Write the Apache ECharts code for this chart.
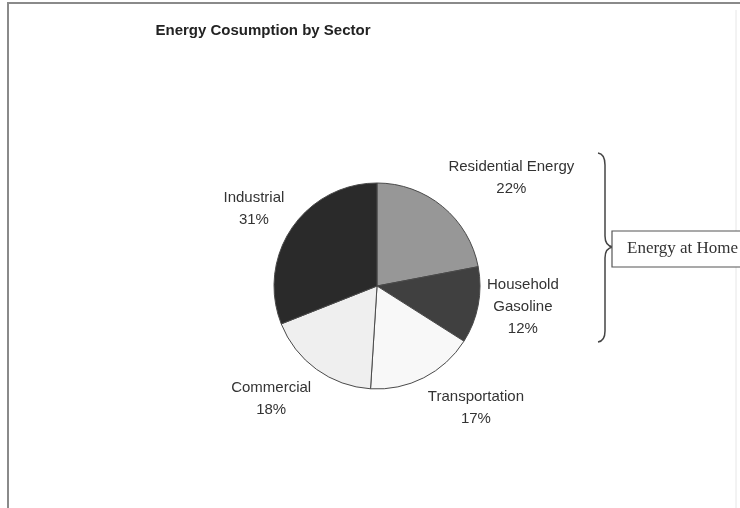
<!DOCTYPE html>
<html>
<head>
<meta charset="utf-8">
<script src="https://cdn.jsdelivr.net/npm/echarts@6/dist/echarts.min.js"></script>
<style>html,body{margin:0;padding:0;background:#fff;}#chart{width:740px;height:508px;}</style>
</head>
<body>
<div id="chart"></div>
<script>
const titleText = 'Energy Cosumption by Sector';
const categories = ['Residential Energy', 'Household\nGasoline', 'Transportation', 'Commercial', 'Industrial'];
const values = [22, 12, 17, 18, 31];
const sliceColors = ['#979797', '#404040', '#f8f8f8', '#efefef', '#2a2a2a'];
const braceLabel = 'Energy at Home';

const CX = 377, CY = 286, R = 103, GAP = 9;
const total = values.reduce((a, b) => a + b, 0);
const cum = [];
values.reduce((acc, v, i) => { cum[i] = acc; return acc + v; }, 0);

function ramp(u, t, k) {
  const a = Math.abs(u);
  return Math.sign(u) * Math.min(1, Math.max(0, (a - t) * k));
}

const braceStyle = { fill: 'none', stroke: '#444444', lineWidth: 1.5 };
function curve(x1, y1, cx, cy, x2, y2) {
  return { type: 'bezierCurve', shape: { x1: x1, y1: y1, cpx1: cx, cpy1: cy, x2: x2, y2: y2 }, style: braceStyle, silent: true };
}
function seg(x1, y1, x2, y2) {
  return { type: 'line', shape: { x1: x1, y1: y1, x2: x2, y2: y2 }, style: braceStyle, silent: true };
}

const chart = echarts.init(document.getElementById('chart'));
chart.setOption({
  backgroundColor: '#ffffff',
  animation: false,
  series: [{
    type: 'pie',
    center: [CX, CY],
    radius: [0, R],
    startAngle: 90,
    clockwise: true,
    avoidLabelOverlap: false,
    data: categories.map((c, i) => ({ name: c, value: values[i], itemStyle: { color: sliceColors[i] } })),
    itemStyle: { borderColor: '#4a4a4a', borderWidth: 1 },
    emphasis: { disabled: true },
    label: {
      show: true,
      position: 'outside',
      formatter: '{b}\n{c}%',
      fontFamily: 'Liberation Sans, Arial, sans-serif',
      fontSize: 15,
      lineHeight: 22,
      color: '#333333',
      align: 'center'
    },
    labelLine: { show: false },
    labelLayout: function (params) {
      const i = params.dataIndex;
      const mid = (cum[i] + values[i] / 2) / total * 2 * Math.PI;
      const dx = Math.sin(mid), dy = -Math.cos(mid);
      const px = CX + (R + GAP) * dx, py = CY + (R + GAP) * dy;
      const w = params.labelRect.width, h = params.labelRect.height;
      return {
        x: px + ramp(dx, 0.2, 4) * w / 2,
        y: py + ramp(dy, 0.3, 2.5) * h / 2,
        align: 'center',
        verticalAlign: 'middle'
      };
    }
  }],
  graphic: [
    { type: 'rect', shape: { x: 8, y: 3, width: 900, height: 700 }, style: { fill: 'none', stroke: '#8a8a8a', lineWidth: 2 }, silent: true, z: -1 },
    { type: 'line', shape: { x1: 736, y1: 10, x2: 736, y2: 508 }, style: { stroke: '#e6e6e6', lineWidth: 1 }, silent: true },
    { type: 'text', x: 263, y: 31, style: { text: titleText, font: 'bold 15px "Liberation Sans", Arial, sans-serif', fill: '#222222', textAlign: 'center', textVerticalAlign: 'middle' } },
    curve(598, 153, 605, 154, 605, 165),
    seg(605, 165, 605, 236),
    curve(605, 236, 605, 246, 613, 247),
    curve(613, 247, 605, 248, 605, 258),
    seg(605, 258, 605, 331),
    curve(605, 331, 605, 341, 598, 342),
    { type: 'rect', shape: { x: 612, y: 231, width: 200, height: 36 }, style: { fill: '#ffffff', stroke: '#555555', lineWidth: 1.2 } },
    { type: 'text', x: 627, y: 249, style: { text: braceLabel, font: '17px "Liberation Serif", "Times New Roman", serif', fill: '#333333', textAlign: 'left', textVerticalAlign: 'middle' } }
  ]
});
</script>
</body>
</html>
